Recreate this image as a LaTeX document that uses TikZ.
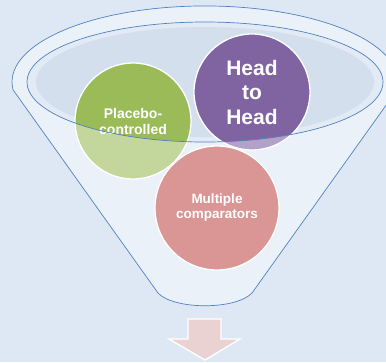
\documentclass[tikz,border=0pt]{standalone}
\usepackage{fontspec}
\setmainfont{Liberation Sans}
\definecolor{bgc}{HTML}{DEE8F4}
\definecolor{ringc}{HTML}{E2EAF5}
\definecolor{openc}{HTML}{D3DFEC}
\definecolor{linec}{HTML}{4F81BD}
\definecolor{greenc}{HTML}{9BBB59}
\definecolor{purplec}{HTML}{8064A2}
\definecolor{redc}{HTML}{C0504D}
\definecolor{arrowc}{HTML}{EBD2D2}
\tikzset{
  ball/.style={circle, draw=white, line width=1.3pt, text=white, align=center, inner sep=0pt},
  funline/.style={draw=linec, line width=0.7pt},
}
\begin{document}
\begin{tikzpicture}[x=1pt,y=-1pt]
\useasboundingbox (0,0) rectangle (386,362);
\fill[bgc] (0,0) rectangle (386,362);
% opening of the funnel
\fill[ringc] (205,82) ellipse [x radius=178, y radius=60];
\fill[openc] (205,82) ellipse [x radius=169, y radius=55];
% balls
\node[ball, fill=greenc, minimum size=116pt, font=\bfseries\fontsize{14}{16}\selectfont] (placebo) at (133,121) {Placebo-\\controlled};
\node[ball, fill=purplec, minimum size=116pt, font=\bfseries\fontsize{21}{24.5}\selectfont] (hth) at (252,92) {Head\\to\\Head};
\node[ball, fill=redc, minimum size=124pt, font=\bfseries\fontsize{13.5}{15}\selectfont] (multi) at (217,208) {Multiple\\comparators};
% front face overlay (white, 40%)
\fill[white, fill opacity=0.4, even odd rule]
  (13.1,89.9) arc [start angle=174, end angle=366, x radius=193, y radius=76]
  -- (252,293) .. controls (236,310) and (174,310) .. (158,293) -- cycle
  (205,82) ellipse [x radius=178, y radius=60];
% outlines
\draw[funline, line join=round]
  (13.1,89.9) arc [start angle=174, end angle=366, x radius=193, y radius=76]
  -- (252,293) .. controls (236,310) and (174,310) .. (158,293) -- cycle;
\draw[funline] (205,82) ellipse [x radius=178, y radius=60];
% redraw text of the lower ball so it stays crisp
% arrow
\coordinate (arrtop) at (205,319);
\draw[white, line width=1.3pt, fill=arrowc, line join=miter]
  (188,319) -- (221,319) -- (221,339) -- (240,339) -- (205,360) -- (169,339) -- (188,339) -- cycle;
\end{tikzpicture}
\end{document}
